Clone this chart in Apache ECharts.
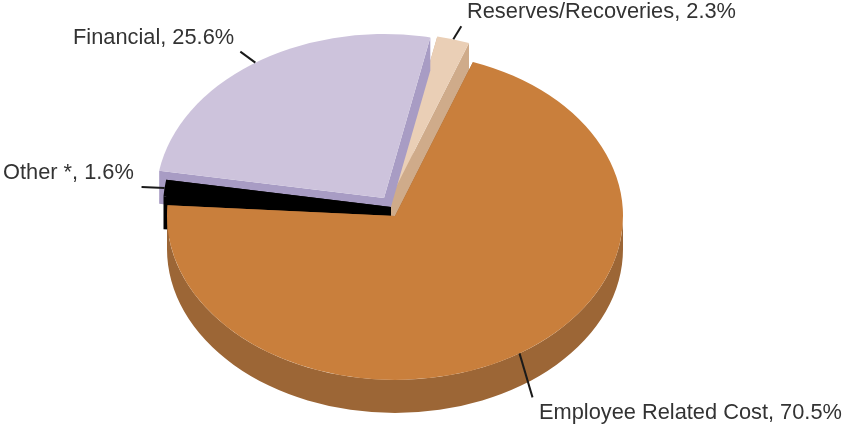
<!DOCTYPE html>
<html>
<head>
<meta charset="utf-8">
<style>html,body{margin:0;padding:0;background:#fff}#chart{width:842px;height:425px}</style>
<script src="https://cdn.jsdelivr.net/npm/echarts@6/dist/echarts.min.js"></script>
</head>
<body>
<div id="chart"></div>
<script>
// Cost shares, listed clockwise from the first slice
const categories = ['Employee Related Cost', 'Other *', 'Financial', 'Reserves/Recoveries'];
const shares = [70.5, 1.6, 25.6, 2.3];

// Slice colours
const topColors = ['#c97f3c', '#000000', '#cdc3dc', '#eacfb6'];
const wallColors = ['#9c6636', '#000000', '#a89cc4', '#cfab8a'];

// Pie projection: an ellipse with a fixed rim depth, pulled slices use their own centre
const RX = 228, RY = 164, DEPTH = 33, START_ANGLE = 20;
const centers = [[395, 216], [391, 207], [384, 198], [391, 197]];
const leaderEnds = [[13, 44], [-23, -1], [-15, -11], [8, -13]];
const labelAnchors = [[539, 413], [3, 173], [73, 38], [467, 12]];

const total = shares.reduce((a, b) => a + b, 0);
let running = START_ANGLE;
const rows = shares.map((value, i) => {
  const from = running;
  running += value / total * 360;
  return [value, i, from, running];
});

function rimPoint(c, deg, drop) {
  const t = deg * Math.PI / 180;
  return [c[0] + RX * Math.sin(t), c[1] - RY * Math.cos(t) + (drop || 0)];
}
function poly(points, fill) {
  return { type: 'polygon', shape: { points }, style: { fill } };
}

function renderSlice(params, api) {
  const value = api.value(0), i = api.value(1), from = api.value(2), to = api.value(3);
  const c = centers[i];
  const a = rimPoint(c, from), b = rimPoint(c, to);
  const low = [c[0], c[1] + DEPTH];
  const children = [];

  // Cut faces; those turned away end up under the slice's own top
  [a, b].forEach(p => {
    children.push(poly([c, p, [p[0], p[1] + DEPTH], low], wallColors[i]));
  });

  // Outer wall, only along the front half of the rim
  const wf = Math.max(from, 90), wt = Math.min(to, 270);
  if (wt > wf) {
    const p0 = rimPoint(c, wf), p1 = rimPoint(c, wt);
    const q1 = rimPoint(c, wt, DEPTH), q0 = rimPoint(c, wf, DEPTH);
    children.push({
      type: 'path',
      shape: {
        pathData: `M${p0[0]} ${p0[1]} A${RX} ${RY} 0 ${wt - wf > 180 ? 1 : 0} 1 ${p1[0]} ${p1[1]} ` +
                  `L${q1[0]} ${q1[1]} A${RX} ${RY} 0 ${wt - wf > 180 ? 1 : 0} 0 ${q0[0]} ${q0[1]} Z`
      },
      style: { fill: wallColors[i] }
    });
  }

  // Top face
  children.push({
    type: 'path',
    shape: {
      pathData: `M${c[0]} ${c[1]} L${a[0]} ${a[1]} A${RX} ${RY} 0 ${to - from > 180 ? 1 : 0} 1 ${b[0]} ${b[1]} Z`
    },
    style: { fill: topColors[i] }
  });

  // Leader from the rim at mid-slice, then the label
  const m = rimPoint(c, (from + to) / 2);
  const e = leaderEnds[i];
  children.push({
    type: 'line',
    shape: { x1: m[0], y1: m[1], x2: m[0] + e[0], y2: m[1] + e[1] },
    style: { stroke: '#1a1a1a', lineWidth: 2 }
  });
  children.push({
    type: 'text',
    style: {
      x: labelAnchors[i][0], y: labelAnchors[i][1],
      text: categories[i] + ', ' + value.toFixed(1) + '%',
      fill: '#333333',
      font: '21.8px "Liberation Sans", Arial, sans-serif',
      verticalAlign: 'middle', align: 'left'
    }
  });
  return { type: 'group', children };
}

const chart = echarts.init(document.getElementById('chart'), null, { renderer: 'canvas' });
chart.setOption({
  backgroundColor: '#ffffff',
  animation: false,
  series: [{
    type: 'custom',
    coordinateSystem: 'none',
    renderItem: renderSlice,
    // painted back to front
    data: rows.slice().reverse()
  }]
});
</script>
</body>
</html>
